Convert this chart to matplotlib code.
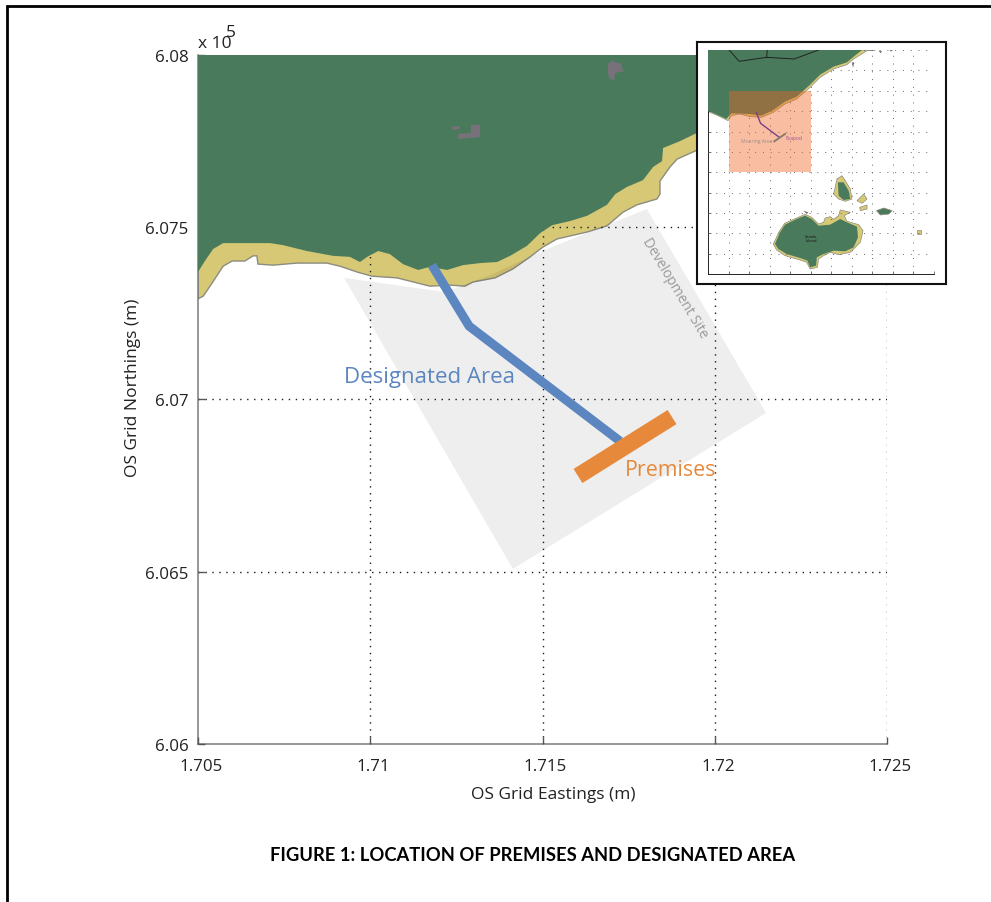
"""
Location map of the premises and designated area, with a small overview inset.
"""

import matplotlib
matplotlib.use('Agg')
import matplotlib.pyplot as plt
from matplotlib.lines import Line2D
from matplotlib.patches import Polygon, Rectangle
from matplotlib.transforms import ScaledTranslation

plt.rcParams['font.family'] = ['Open Sans', 'DejaVu Sans']

# Main map, OS grid metres
sea_edge_x = [170500, 170515, 170535, 170558, 170573, 170599, 170636, 170660, 170671, 170674,
              170718, 170787, 170874, 170912, 170962, 171005, 171078, 171173, 171232, 171275,
              171298, 171362, 171414, 171464, 171502, 171542, 171629, 171687, 171734, 171774,
              171832, 171841, 171841, 171870, 171891, 171949, 172044, 172190, 172335]
sea_edge_y = [607292, 607300, 607329, 607364, 607387, 607402, 607402, 607417, 607417, 607393,
              607390, 607396, 607396, 607387, 607370, 607358, 607353, 607329, 607332, 607329,
              607341, 607353, 607379, 607414, 607443, 607466, 607486, 607504, 607544, 607565,
              607582, 607596, 607634, 607675, 607698, 607724, 607800, 607916, 608000]
land_edge_x = [170500, 170520, 170544, 170573, 170709, 170747, 170816, 170892, 170941, 170970,
               170991, 171023, 171057, 171095, 171139, 171173, 171223, 171269, 171319, 171368,
               171406, 171455, 171493, 171528, 171580, 171629, 171687, 171711, 171745, 171792,
               171821, 171847, 171850, 171899, 171949, 172044, 172161, 172219]
land_edge_y = [607370, 607402, 607437, 607454, 607454, 607448, 607431, 607417, 607414, 607399,
               607414, 607431, 607422, 607393, 607376, 607385, 607376, 607390, 607396, 607399,
               607417, 607446, 607483, 607506, 607518, 607533, 607565, 607596, 607617, 607637,
               607675, 607692, 607730, 607750, 607774, 607843, 607945, 608000]
site_x = [170924, 171217, 171348, 171499, 171803, 172149, 171414]
site_y = [607353, 607312, 607361, 607431, 607553, 606961, 606508]
designated_x = [171179, 171287, 171725]
designated_y = [607390, 607213, 606879]
premises_x = [171603, 171876]
premises_y = [606778, 606949]
patch1_x = [171690, 171705, 171713, 171728, 171731, 171742, 171711, 171708, 171696, 171690]
patch1_y = [607974, 607985, 607977, 607977, 607959, 607954, 607948, 607927, 607930, 607945]
patch2_x = [171255, 171292, 171292, 171319, 171319, 171255]
patch2_y = [607771, 607774, 607797, 607797, 607762, 607756]
patch3_x = [171237, 171261, 171258, 171240]
patch3_y = [607791, 607794, 607785, 607782]

x_ticks = [170500, 171000, 171500, 172000, 172500]
x_labels = ['1.705', '1.71', '1.715', '1.72', '1.725']
y_ticks = [606000, 606500, 607000, 607500, 608000]
y_labels = ['6.06', '6.065', '6.07', '6.075', '6.08']

# Overview inset, digitised map units (y runs downwards)
inset_grid_x = [117, 178, 240, 300, 362, 423, 485, 545, 607, 668, 730]
inset_grid_y = [48, 109, 170, 232, 293, 354, 415, 476, 537, 598, 659]
main_sand = [(55, 233), (85, 245), (115, 260), (125, 245), (150, 240), (180, 248), (215, 250),
             (250, 235), (285, 210), (320, 195), (360, 160), (390, 130), (430, 105), (470, 92),
             (490, 75), (530, 50), (555, 48), (55, 48)]
main_land = [(55, 230), (110, 255), (125, 238), (180, 240), (215, 245), (250, 228), (285, 203),
             (320, 188), (360, 152), (390, 122), (430, 98), (470, 85), (490, 68), (515, 48), (55, 48)]
sanda_sand = [(250, 630), (268, 592), (284, 568), (320, 552), (345, 541), (365, 550), (385, 570),
              (400, 565), (405, 552), (420, 548), (430, 556), (445, 545), (450, 528), (480, 535),
              (462, 545), (470, 562), (505, 572), (518, 590), (510, 625), (480, 655), (445, 662),
              (420, 655), (400, 665), (385, 675), (382, 700), (360, 705), (350, 685), (330, 678),
              (285, 665), (260, 648)]
sanda_land = [(255, 630), (270, 595), (285, 572), (320, 555), (345, 545), (365, 555), (385, 575),
              (420, 572), (450, 555), (470, 565), (500, 578), (503, 610), (490, 640), (465, 652),
              (430, 650), (400, 660), (380, 670), (378, 695), (360, 700), (352, 680), (330, 672),
              (290, 660), (265, 645)]
north_sand = [(440, 435), (455, 425), (465, 440), (480, 465), (485, 495), (465, 502), (445, 495),
              (430, 480), (435, 460)]
north_land = [(443, 445), (460, 445), (475, 470), (480, 495), (460, 498), (445, 485)]
islet_sand = [[(500, 500), (520, 480), (530, 495), (515, 508)],
              [(508, 520), (530, 513), (530, 525), (510, 530)],
              [(680, 588), (692, 588), (692, 600), (680, 600)]]
islet_land = [[(558, 530), (580, 522), (605, 530), (595, 540), (570, 543)]]
islet_rock = [[(340, 530), (355, 535), (350, 540)], [(485, 85), (492, 85), (488, 102)],
              [(565, 50), (575, 52), (570, 58)], [(597, 48), (607, 48), (602, 53)]]
road_a = [(118, 48), (148, 82), (230, 70), (312, 75), (385, 48)]
road_b = [(230, 70), (232, 48)]
study_box = [117, 170, 362, 415]
inset_designated = [(200, 237), (212, 268), (268, 310)]
inset_premises = [(253, 322), (285, 300)]

GREEN = '#4a7a5c'
SAND = '#d6c874'
EDGE = '#8c8c80'
GREY = '#77727a'
AXIS = '#7a7a7a'
TEXT = '#222222'
DOTS = (0, (1, 4))

fig = plt.figure(figsize=(9.91, 9.03), dpi=100)
ax = fig.add_axes([198 / 991, 1 - 745 / 903, 689 / 991, 689 / 903])

# Coast
ax.fill(sea_edge_x + [170500], sea_edge_y + [608000], facecolor=SAND, edgecolor=EDGE, linewidth=1,
        joinstyle='round', zorder=2)
ax.fill(land_edge_x + [170500], land_edge_y + [608000], facecolor=GREEN, edgecolor='none', zorder=3)
ax.fill(patch1_x, patch1_y, color=GREY, linewidth=0, zorder=3.1)
ax.fill(patch2_x, patch2_y, color=GREY, linewidth=0, zorder=3.1)
ax.fill(patch3_x, patch3_y, color=GREY, linewidth=0, zorder=3.1)

# Development site only just clips the sand, so keep it translucent
ax.fill(site_x, site_y, facecolor='black', alpha=0.068, edgecolor='none', zorder=4)

ax.plot(designated_x, designated_y, color='#5b86c0', linewidth=6.5, solid_capstyle='butt',
        solid_joinstyle='miter', zorder=6)
ax.plot(premises_x, premises_y, color='#e6893a', linewidth=12, solid_capstyle='butt', zorder=7)

ax.text(170924, 607068, 'Designated Area', color='#5b86c0', fontsize=16, va='center', ha='left', zorder=8)
ax.text(171740, 606798, 'Premises', color='#e6893a', fontsize=15.4, va='center', ha='left', zorder=8)
ax.text(171885, 607327, 'Development Site', color='#9a9a9a', fontsize=10, rotation=-59,
        va='center', ha='center', rotation_mode='anchor', zorder=8)

ax.set_xlim(170500, 172500)
ax.set_ylim(606000, 608000)
ax.set_xticks(x_ticks)
ax.set_xticklabels(x_labels)
ax.set_yticks(y_ticks)
ax.set_yticklabels(y_labels)
ax.tick_params(direction='in', length=5, width=1, color='#555555', labelsize=12.2, labelcolor=TEXT)
ax.tick_params(axis='x', pad=10)
ax.tick_params(axis='y', pad=7)
# x labels sit a little right of their ticks in the original
for label in ax.get_xticklabels():
    label.set_transform(label.get_transform() + ScaledTranslation(3 / 100, 0, fig.dpi_scale_trans))
ax.grid(True, color='#1a1a1a', linewidth=1, linestyle=DOTS, zorder=5)
ax.set_axisbelow(False)
# the lines on the axis limits would only muddy the spines
ax.xaxis.get_gridlines()[0].set_visible(False)
ax.yaxis.get_gridlines()[0].set_visible(False)
ax.set_xlabel('OS Grid Eastings (m)', fontsize=12.5, color=TEXT)
ax.set_ylabel('OS Grid Northings (m)', fontsize=12.5, color=TEXT)
ax.xaxis.set_label_coords((553 - 198) / 689, -42 / 689, transform=ax.transAxes)
ax.yaxis.set_label_coords(-57 / 689, (745 - 388) / 689, transform=ax.transAxes)
ax.spines['top'].set_visible(False)
ax.spines['right'].set_visible(False)
ax.spines['left'].set_color(AXIS)
ax.spines['bottom'].set_color(AXIS)
ax.spines['left'].set_linewidth(1.1)
ax.spines['bottom'].set_linewidth(1.1)

fig.text(198 / 991, 1 - 44 / 903, 'x 10', fontsize=12.5, color=TEXT, va='center', ha='left')
fig.text(226 / 991, 1 - 33 / 903, '5', fontsize=12.5, color=TEXT, va='center', ha='left')
fig.text(533 / 991, 1 - 856 / 903, 'FIGURE 1: LOCATION OF PREMISES AND DESIGNATED AREA',
         fontsize=13.2, fontweight='bold', family=['Lato'], color='black', va='center', ha='center')

# Page border, top and left only
fig.add_artist(Line2D([7 / 991, 7 / 991, 1], [0, 1 - 7 / 903, 1 - 7 / 903], color='black', linewidth=2,
                      solid_joinstyle='miter'))

# Inset frame
frame = fig.add_axes([697 / 991, 1 - 285 / 903, 249 / 991, 242 / 903], zorder=10)
frame.set_xticks([])
frame.set_yticks([])
for spine in frame.spines.values():
    spine.set_linewidth(1.5)
    spine.set_color('#111111')

inset = fig.add_axes([708 / 991, 1 - 275 / 903, 226 / 991, 224 / 903], zorder=11)
inset.patch.set_alpha(0)
inset.set_xlim(55, 730)
inset.set_ylim(720, 48)


def add_shape(points, color, edge='none', z=2):
    inset.add_patch(Polygon(points, closed=True, facecolor=color, edgecolor=edge, linewidth=0.5, zorder=z))


add_shape(main_sand, SAND, EDGE)
add_shape(main_land, GREEN, z=3)
add_shape(sanda_sand, SAND, EDGE)
add_shape(sanda_land, GREEN, z=3)
add_shape(north_sand, SAND, EDGE)
add_shape(north_land, GREEN, z=3)
for shape in islet_sand:
    add_shape(shape, SAND, EDGE)
for shape in islet_land:
    add_shape(shape, GREEN, EDGE)
for shape in islet_rock:
    add_shape(shape, GREY)

inset.plot(*zip(*road_a), color='#222222', linewidth=0.7, zorder=3.2)
inset.plot(*zip(*road_b), color='#222222', linewidth=0.7, zorder=3.2)
inset.add_patch(Rectangle((study_box[0], study_box[1]), study_box[2] - study_box[0], study_box[3] - study_box[1],
                          facecolor='#f26522', alpha=0.42, edgecolor='none', zorder=4))
inset.plot(*zip(*inset_designated), color='#7b3f86', linewidth=1, zorder=6)
inset.plot(*zip(*inset_premises), color='#8a7a6a', linewidth=1.4, zorder=7)
inset.text(201, 320, 'Mooring Area', color='#9a8f88', fontsize=3.6, va='center', ha='center', zorder=8)
inset.text(311, 311, 'Evapod', color='#a0509a', fontsize=3.6, va='center', ha='center', zorder=8)
inset.text(363, 612, 'Sanda\nIsland', color='#111111', fontsize=3, va='center', ha='center', linespacing=1, zorder=8)

inset.set_xticks(inset_grid_x)
inset.set_yticks(inset_grid_y)
inset.tick_params(direction='in', length=2, width=0.5, color='#444444', labelbottom=False, labelleft=False)
inset.grid(True, color='#666666', linewidth=0.7, linestyle=(0, (1, 7)), zorder=5)
inset.set_axisbelow(False)
inset.spines['top'].set_visible(False)
inset.spines['right'].set_visible(False)
inset.spines['left'].set_linewidth(0.6)
inset.spines['bottom'].set_linewidth(0.6)

fig.savefig('out.png', dpi=100)
plt.close(fig)
